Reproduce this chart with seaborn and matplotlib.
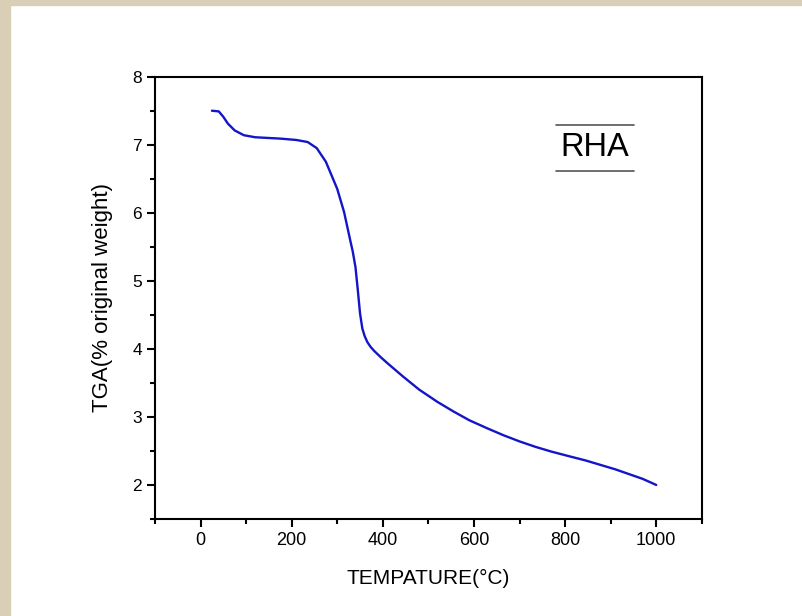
import matplotlib
matplotlib.use('Agg')
import matplotlib.pyplot as plt
from matplotlib.ticker import MultipleLocator
from matplotlib.patches import Rectangle
from matplotlib.lines import Line2D
import seaborn as sns
import pandas as pd

# values
temperature = [25, 40, 50, 60, 75, 95, 120, 175, 210, 235, 255, 275, 300, 315,
               328, 334, 340, 345, 350, 355, 360, 366, 373, 381, 395, 410, 445,
               480, 520, 555, 590, 630, 665, 700, 735, 770, 810, 845, 880, 910,
               940, 970, 1000]
tga = [7.50, 7.49, 7.41, 7.31, 7.21, 7.14, 7.11, 7.09, 7.07, 7.04, 6.95, 6.75,
       6.35, 6.01, 5.61, 5.43, 5.20, 4.87, 4.52, 4.30, 4.19, 4.10, 4.03, 3.97,
       3.88, 3.79, 3.59, 3.40, 3.22, 3.08, 2.95, 2.83, 2.73, 2.64, 2.56, 2.49,
       2.42, 2.36, 2.29, 2.23, 2.16, 2.09, 2.00]
x_ticks = [0, 200, 400, 600, 800, 1000]
y_ticks = [2, 3, 4, 5, 6, 7, 8]
sample = 'RHA'

df = pd.DataFrame({'temp': temperature, 'tga': tga})

sns.set_style('ticks')
plt.rcParams['font.family'] = ['Liberation Sans', 'DejaVu Sans']
plt.rcParams['text.color'] = 'black'
plt.rcParams['axes.labelcolor'] = 'black'
plt.rcParams['xtick.color'] = 'black'
plt.rcParams['ytick.color'] = 'black'

fig = plt.figure(figsize=(8.03, 6.16), dpi=100)
# beige page border (left and top)
fig.patches.append(Rectangle((0, 0), 10 / 803, 1, transform=fig.transFigure,
                             color='#d9cfb6', zorder=0))
fig.patches.append(Rectangle((0, 1 - 5 / 616), 1, 5 / 616, transform=fig.transFigure,
                             color='#d9cfb6', zorder=0))

ax = fig.add_axes([0.193, 0.1575, 0.681, 0.718])
sns.lineplot(data=df, x='temp', y='tga', color='#1414c8', linewidth=1.7,
             estimator=None, ax=ax)

ax.set_xlim(-100, 1100)
ax.set_ylim(1.5, 8)
ax.set_xticks(x_ticks)
ax.set_yticks(y_ticks)
ax.xaxis.set_minor_locator(MultipleLocator(100))
ax.yaxis.set_minor_locator(MultipleLocator(0.5))
ax.tick_params(which='major', direction='out', length=6, width=1.5)
ax.tick_params(which='minor', direction='out', length=3.5, width=1.5)
ax.tick_params(axis='x', labelsize=13)
ax.tick_params(axis='y', labelsize=12.5)
for s in ax.spines.values():
    s.set_linewidth(1.5)
    s.set_color('black')

ax.set_xlabel('TEMPATURE(°C)', fontsize=15, labelpad=14)
ax.set_ylabel('TGA(% original weight)', fontsize=16, labelpad=14)

# sample label with lines above and below
ax.text(0.805, 0.839, sample, transform=ax.transAxes, fontsize=23.5,
        ha='center', va='center')
for yy in (0.891, 0.787):
    ax.add_line(Line2D([0.733, 0.876], [yy, yy], transform=ax.transAxes,
                       color='#555555', linewidth=1.2))

fig.savefig('out.png', dpi=100)
